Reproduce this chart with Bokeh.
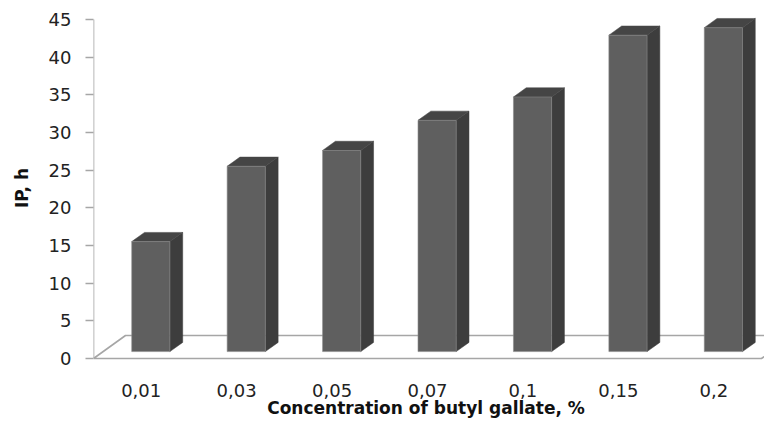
from bokeh.plotting import figure
from bokeh.models import Range1d, FixedTicker
from bokeh.embed import file_html
from bokeh.resources import INLINE

# ---- data ----
categories = ["0,01", "0,03", "0,05", "0,07", "0,1", "0,15", "0,2"]
ip_hours = [14.6, 24.6, 26.7, 30.7, 33.8, 42.0, 43.0]
y_ticks = [0, 5, 10, 15, 20, 25, 30, 35, 40, 45]
x_title = "Concentration of  butyl gallate, %"
y_title = "IP, h"

# ---- style / projection constants ----
PX_PER_CAT = 668 / 7          # pixels per category slot on the front edge
PX_PER_UNIT = 339 / 45        # pixels per hour on the value axis
DEPTH_X = 32 / PX_PER_CAT     # oblique depth of the floor (in data units)
DEPTH_Y = 23 / PX_PER_UNIT
BAR_W = 0.4
BAR_FRONT = 0.3               # fraction of depth where bar front sits
BAR_BACK = 0.7

FRONT_COL = "#5f5f5f"
SIDE_COL = "#3d3d3d"
TOP_COL = "#454545"
EDGE_COL = "#a6a6a6"

n = len(categories)
W, H = 764, 421
MB_LEFT, MB_RIGHT, MB_TOP, MB_BOTTOM = 93, 0, 14, 60
frame_w = W - MB_LEFT - MB_RIGHT
frame_h = H - MB_TOP - MB_BOTTOM

p = figure(width=W, height=H, output_backend="svg", toolbar_location=None,
           x_range=Range1d(0, frame_w / PX_PER_CAT),
           y_range=Range1d(-3 / PX_PER_UNIT, -3 / PX_PER_UNIT + frame_h / PX_PER_UNIT),
           min_border_left=MB_LEFT, min_border_right=MB_RIGHT,
           min_border_top=MB_TOP, min_border_bottom=MB_BOTTOM)
p.xgrid.visible = False
p.ygrid.visible = False
p.outline_line_color = None
p.background_fill_color = "white"
p.border_fill_color = "white"

# ---- floor ----
fx = [0, n, n + DEPTH_X, DEPTH_X]
fy = [0, 0, DEPTH_Y, DEPTH_Y]
p.patch(fx, fy, fill_color=None, line_color=EDGE_COL, line_width=1.6)

# y axis line (0..45)
p.line([0, 0], [y_ticks[0], y_ticks[-1]], line_color=EDGE_COL, line_width=1.6)

# ---- bars ----
ox = BAR_FRONT * DEPTH_X
oy = BAR_FRONT * DEPTH_Y
bx = (BAR_BACK - BAR_FRONT) * DEPTH_X
by = (BAR_BACK - BAR_FRONT) * DEPTH_Y

lefts = [i + 0.5 - BAR_W / 2 + ox for i in range(n)]
rights = [l + BAR_W for l in lefts]
bottoms = [oy] * n
tops = [oy + v for v in ip_hours]

side_xs = [[r, r + bx, r + bx, r] for r in rights]
side_ys = [[b, b + by, t + by, t] for b, t in zip(bottoms, tops)]
top_xs = [[l, r, r + bx, l + bx] for l, r in zip(lefts, rights)]
top_ys = [[t, t, t + by, t + by] for t in tops]

p.patches(side_xs, side_ys, fill_color=SIDE_COL, line_color=SIDE_COL, line_width=0.5)
p.patches(top_xs, top_ys, fill_color=TOP_COL, line_color=TOP_COL, line_width=0.5)
p.quad(left=lefts, right=rights, bottom=bottoms, top=tops,
       fill_color=FRONT_COL, line_color="#8a8a8a", line_width=0.6)

# ---- axes ----
ya = p.yaxis[0]
ya.ticker = FixedTicker(ticks=y_ticks)
ya.axis_line_color = None
ya.major_tick_out = 8
ya.major_tick_in = 0
ya.major_tick_line_color = EDGE_COL
ya.major_tick_line_width = 1.6
ya.minor_tick_line_color = None
ya.major_label_standoff = 14
ya.major_label_text_font = "DejaVu Sans"
ya.major_label_text_font_size = "18px"
ya.major_label_text_color = "#222222"
ya.axis_label = y_title
ya.axis_label_text_font = "DejaVu Sans"
ya.axis_label_text_font_style = "bold"
ya.axis_label_text_font_size = "17px"
ya.axis_label_text_color = "#111111"
ya.axis_label_standoff = 14

xa = p.xaxis[0]
xa.ticker = FixedTicker(ticks=[i + 0.5 for i in range(n)])
xa.major_label_overrides = {i + 0.5: c for i, c in enumerate(categories)}
xa.axis_line_color = None
xa.major_tick_line_color = None
xa.minor_tick_line_color = None
xa.major_tick_out = 0
xa.major_tick_in = 0
xa.major_label_standoff = 22
xa.major_label_text_font = "DejaVu Sans"
xa.major_label_text_font_size = "18px"
xa.major_label_text_color = "#222222"
xa.axis_label = x_title
xa.axis_label_text_font = "DejaVu Sans"
xa.axis_label_text_font_style = "bold"
xa.axis_label_text_font_size = "17px"
xa.axis_label_text_color = "#111111"
xa.axis_label_standoff = -2

open("out.html", "w").write(file_html(p, INLINE))
